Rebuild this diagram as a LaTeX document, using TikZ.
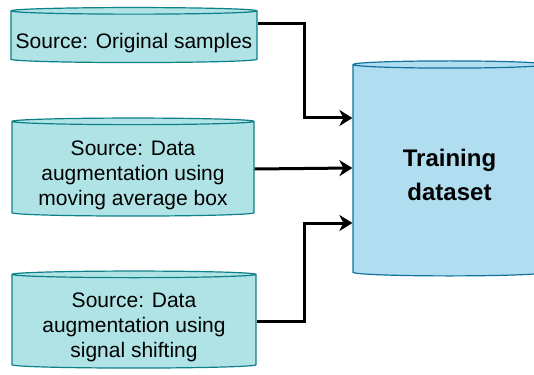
\documentclass[tikz,border=0pt]{standalone}
\usepackage{fontspec}
\setmainfont{Liberation Sans}
\usetikzlibrary{shapes.geometric,arrows.meta}
\definecolor{srcfill}{HTML}{B0E3E6}
\definecolor{srcline}{HTML}{0E8088}
\definecolor{dbfill}{HTML}{B1DDF0}
\definecolor{dbline}{HTML}{10739E}

\begin{document}
\begin{tikzpicture}[x=1pt,y=-1pt,
    src/.style={cylinder,shape border rotate=90,draw=srcline,fill=srcfill,
        line width=1.2pt,text width=220pt,aspect=0.03,inner sep=0pt},
    srctext/.style={yshift=-6pt,align=center,font=\fontsize{21}{25}\selectfont},
    db/.style={cylinder,shape border rotate=90,draw=dbline,fill=dbfill,
        line width=1.2pt,text width=160pt,aspect=0.045,inner sep=0pt},
    flow/.style={line width=3pt,-{Stealth[length=13pt,width=16pt,inset=4pt]}}]
    \useasboundingbox(0,0)rectangle(534,374);
    \node[src,minimum width=246pt,minimum height=55pt,
        label={[srctext]center:Source: Original samples}](orig)at(134,37){};
    \node[src,minimum width=242pt,minimum height=98pt,
        label={[srctext]center:{Source: Data\\augmentation using\\moving average box}}](avg)at(133,169){};
    \node[src,minimum width=244pt,minimum height=97pt,
        label={[srctext]center:{Source: Data\\augmentation using\\signal shifting}}](shift)at(134,321.5){};
    \node[db,minimum width=193pt,minimum height=215pt,
        label={[yshift=-4pt,align=center,font=\fontsize{24}{34}\selectfont\bfseries]center:{Training\\dataset}}](train)at(449.5,170.5){};
    \draw[flow]([yshift=13pt]orig.east)-|++(47,94)--([yshift=52.5pt]train.west);
    \draw[flow](avg.east)--([yshift=2.5pt]train.west);
    \draw[flow](shift.east)-|++(48,-98.5)--([yshift=-52.5pt]train.west);
\end{tikzpicture}
\end{document}
